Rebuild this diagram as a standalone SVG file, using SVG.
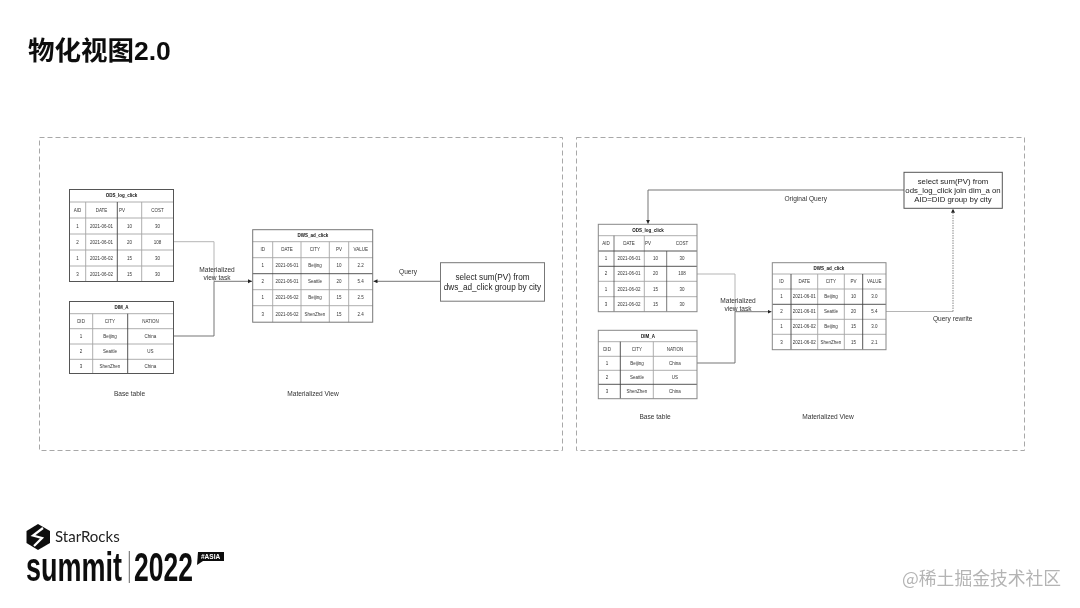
<svg xmlns="http://www.w3.org/2000/svg" width="1080" height="608" viewBox="0 0 1080 608">
<style>
text{font-family:"Liberation Sans",Arial,"Noto Sans CJK SC",sans-serif;fill:#222}
.panel{fill:none;stroke:#a8a8a8;stroke-width:1;stroke-dasharray:5 3}
.cell{fill:#fff}
.outer{fill:none;stroke:#555;stroke-width:1}
.dark{fill:none;stroke:#444;stroke-width:.9}
.grey{fill:none;stroke:#a5a5a5;stroke-width:.9}
.t text{font-size:4.5px;text-anchor:middle;fill:#333}
.t .h{font-weight:bold;fill:#111}
.lab{font-size:6.6px;text-anchor:middle;fill:#333}
.q{font-size:8.2px;text-anchor:middle;fill:#222}
.qs{font-size:7.800px}
.box{fill:#fff;stroke:#777;stroke-width:1}
.c{fill:none;stroke:#666;stroke-width:.9}
.cl{fill:none;stroke:#b5b5b5;stroke-width:1}
.cd{fill:none;stroke:#888;stroke-width:1;stroke-dasharray:1.5 1}
</style>
<defs>
<marker id="a" markerWidth="5" markerHeight="5" refX="4" refY="2" orient="auto" markerUnits="userSpaceOnUse"><path d="M0 0L4 2L0 4Z" fill="#222"/></marker>
<filter id="soft" x="0" y="0" width="100%" height="100%" filterUnits="userSpaceOnUse" primitiveUnits="userSpaceOnUse"><feGaussianBlur stdDeviation="0.35"/></filter>
</defs>
<rect width="1080" height="608" fill="#fff"/>
<g filter="url(#soft)">
<text x="28" y="60" font-size="26.5" font-weight="bold" style="fill:#111">物化视图2.0</text>
<rect class="panel" x="39.500" y="137.500" width="523" height="313"/>
<rect class="panel" x="576.500" y="137.500" width="448" height="313"/>

<g id="connectors">
<path class="cl" d="M174 241.700H214V281"/>
<path class="c" d="M174 336H214V281.300"/>
<path class="c" d="M214 281.300H252" marker-end="url(#a)"/>
<path class="c" d="M440 281.300H373.500" marker-end="url(#a)"/>
<path class="cl" d="M697 274H735V312"/>
<path class="c" d="M697 363H735V311.700"/>
<path class="c" d="M735 311.700H771.500" marker-end="url(#a)"/>
<path class="c" d="M904 190H648V223.800" marker-end="url(#a)"/>
<path class="cl" d="M886 311.500H953"/>
<path class="cd" d="M953 311.500V208.800" marker-end="url(#a)"/>
</g>

<g id="ods-left" class="t">
<rect class="cell" x="69.500" y="189.500" width="104" height="92"/>
<path class="grey" d="M69.500 202H173.500M69.500 218H173.500M69.500 234H173.500M69.500 250H173.500M69.500 266H173.500M85.700 202V281.500M141.700 202V281.500"/>
<path class="dark" d="M117.300 202V281.500"/>
<rect class="outer" x="69.500" y="189.500" width="104" height="92"/>
<text class="h" x="121.500" y="197.300">ODS_log_click</text>
<text x="77.500" y="211.600">AID</text><text x="101.500" y="211.600">DATE</text><text x="122" y="211.600">PV</text><text x="157.500" y="211.600">COST</text>
<text x="77.500" y="227.600">1</text><text x="101.500" y="227.600">2021-06-01</text><text x="129.500" y="227.600">10</text><text x="157.500" y="227.600">30</text>
<text x="77.500" y="243.600">2</text><text x="101.500" y="243.600">2021-06-01</text><text x="129.500" y="243.600">20</text><text x="157.500" y="243.600">108</text>
<text x="77.500" y="259.600">1</text><text x="101.500" y="259.600">2021-06-02</text><text x="129.500" y="259.600">15</text><text x="157.500" y="259.600">30</text>
<text x="77.500" y="275.600">3</text><text x="101.500" y="275.600">2021-06-02</text><text x="129.500" y="275.600">15</text><text x="157.500" y="275.600">30</text>
</g>

<g id="dim-left" class="t">
<rect class="cell" x="69.500" y="301.500" width="104" height="72"/>
<path class="grey" d="M69.500 313.700H173.500M69.500 328.700H173.500M69.500 344H173.500M69.500 359.300H173.500M92.700 313.700V373.500"/>
<path class="dark" d="M127.700 313.700V373.500"/>
<rect class="outer" x="69.500" y="301.500" width="104" height="72"/>
<text class="h" x="121.500" y="309.200">DIM_A</text>
<text x="81" y="322.600">DID</text><text x="110" y="322.600">CITY</text><text x="150.500" y="322.600">NATION</text>
<text x="81" y="337.900">1</text><text x="110" y="337.900">Beijing</text><text x="150.500" y="337.900">China</text>
<text x="81" y="353.100">2</text><text x="110" y="353.100">Seattle</text><text x="150.500" y="353.100">US</text>
<text x="81" y="367.900">3</text><text x="110" y="367.900">ShenZhen</text><text x="150.500" y="367.900">China</text>
</g>

<g id="dws-left" class="t">
<rect class="cell" x="252.700" y="229.700" width="120" height="92.500"/>
<path class="grey" d="M252.700 241.700H372.700M252.700 257.700H372.700M252.700 289.700H372.700M252.700 305.700H372.700M272.700 241.700V322.200M301 241.700V322.200M329.300 241.700V322.200M348.700 241.700V322.200"/>
<path class="dark" d="M252.700 273.700H372.700"/>
<rect class="outer" style="stroke:#777" x="252.700" y="229.700" width="120" height="92.500"/>
<text class="h" x="313" y="237.300">DWS_ad_click</text>
<text x="262.700" y="251.300">ID</text><text x="287" y="251.300">DATE</text><text x="315" y="251.300">CITY</text><text x="339" y="251.300">PV</text><text x="360.700" y="251.300">VALUE</text>
<text x="262.700" y="267.300">1</text><text x="287" y="267.300">2021-06-01</text><text x="315" y="267.300">Beijing</text><text x="339" y="267.300">10</text><text x="360.700" y="267.300">2.2</text>
<text x="262.700" y="283.300">2</text><text x="287" y="283.300">2021-06-01</text><text x="315" y="283.300">Seattle</text><text x="339" y="283.300">20</text><text x="360.700" y="283.300">5.4</text>
<text x="262.700" y="299.300">1</text><text x="287" y="299.300">2021-06-02</text><text x="315" y="299.300">Beijing</text><text x="339" y="299.300">15</text><text x="360.700" y="299.300">2.5</text>
<text x="262.700" y="315.500">3</text><text x="287" y="315.500">2021-06-02</text><text x="315" y="315.500">ShenZhen</text><text x="339" y="315.500">15</text><text x="360.700" y="315.500">2.4</text>
</g>

<g id="query-left">
<rect class="box" x="440.500" y="262.700" width="104" height="38.500"/>
<text class="q" x="492.500" y="280">select sum(PV) from</text>
<text class="q" x="492.500" y="290">dws_ad_click group by city</text>
</g>

<g id="ods-right" class="t">
<rect class="cell" x="598.300" y="224.300" width="98.700" height="87.400"/>
<path class="grey" d="M598.300 235.700H697M598.300 281.300H697M598.300 296.700H697M644.300 235.700V311.700"/>
<path class="dark" d="M598.300 251H697M598.300 266.300H697"/>
<path class="dark" stroke-opacity=".8" d="M614 235.700V311.700M666.700 251V311.700"/>
<rect class="outer" style="stroke:#888" x="598.300" y="224.300" width="98.700" height="87.400"/>
<text class="h" x="648" y="231.600">ODS_log_click</text>
<text x="606" y="245">AID</text><text x="629" y="245">DATE</text><text x="648" y="245">PV</text><text x="682" y="245">COST</text>
<text x="606" y="260.300">1</text><text x="629" y="260.300">2021-06-01</text><text x="655.500" y="260.300">10</text><text x="682" y="260.300">30</text>
<text x="606" y="275.400">2</text><text x="629" y="275.400">2021-06-01</text><text x="655.500" y="275.400">20</text><text x="682" y="275.400">108</text>
<text x="606" y="290.600">1</text><text x="629" y="290.600">2021-06-02</text><text x="655.500" y="290.600">15</text><text x="682" y="290.600">30</text>
<text x="606" y="305.800">3</text><text x="629" y="305.800">2021-06-02</text><text x="655.500" y="305.800">15</text><text x="682" y="305.800">30</text>
</g>

<g id="dim-right" class="t">
<rect class="cell" x="598.300" y="330.300" width="98.700" height="68.400"/>
<path class="grey" d="M598.300 341.700H697M598.300 356.300H697M598.300 370.300H697M653.300 341.700V398.700"/>
<path class="dark" d="M598.300 384.300H697M620.300 341.700V398.700"/>
<rect class="outer" style="stroke:#888" x="598.300" y="330.300" width="98.700" height="68.400"/>
<text class="h" x="648" y="337.600">DIM_A</text>
<text x="607" y="350.600">DID</text><text x="637" y="350.600">CITY</text><text x="675" y="350.600">NATION</text>
<text x="607" y="364.900">1</text><text x="637" y="364.900">Beijing</text><text x="675" y="364.900">China</text>
<text x="607" y="378.900">2</text><text x="637" y="378.900">Seattle</text><text x="675" y="378.900">US</text>
<text x="607" y="393.100">3</text><text x="637" y="393.100">ShenZhen</text><text x="675" y="393.100">China</text>
</g>

<g id="dws-right" class="t">
<rect class="cell" x="772.300" y="262.700" width="113.700" height="87"/>
<path class="grey" d="M772.300 274H886M772.300 289H886M772.300 319.300H886M772.300 334.300H886M817.700 274V349.700M844.300 274V349.700"/>
<path class="dark" d="M772.300 304.300H886M791 274V349.700M862.700 274V349.700"/>
<rect class="outer" style="stroke:#888" x="772.300" y="262.700" width="113.700" height="87"/>
<text class="h" x="829" y="269.900">DWS_ad_click</text>
<text x="781.500" y="283.100">ID</text><text x="804.300" y="283.100">DATE</text><text x="831" y="283.100">CITY</text><text x="853.500" y="283.100">PV</text><text x="874.300" y="283.100">VALUE</text>
<text x="781.500" y="298.300">1</text><text x="804.300" y="298.300">2021-06-01</text><text x="831" y="298.300">Beijing</text><text x="853.500" y="298.300">10</text><text x="874.300" y="298.300">3.0</text>
<text x="781.500" y="313.400">2</text><text x="804.300" y="313.400">2021-06-01</text><text x="831" y="313.400">Seattle</text><text x="853.500" y="313.400">20</text><text x="874.300" y="313.400">5.4</text>
<text x="781.500" y="328.400">1</text><text x="804.300" y="328.400">2021-06-02</text><text x="831" y="328.400">Beijing</text><text x="853.500" y="328.400">15</text><text x="874.300" y="328.400">3.0</text>
<text x="781.500" y="343.600">3</text><text x="804.300" y="343.600">2021-06-02</text><text x="831" y="343.600">ShenZhen</text><text x="853.500" y="343.600">15</text><text x="874.300" y="343.600">2.1</text>
</g>

<g id="query-right">
<rect class="box" style="stroke:#555" x="904" y="172.300" width="98.300" height="36"/>
<text class="q qs" x="953" y="184">select sum(PV) from</text>
<text class="q qs" x="953" y="193">ods_log_click join dim_a on</text>
<text class="q qs" x="953" y="202.300">AID=DID group by city</text>
</g>

<g id="labels">
<text class="lab" x="217" y="272">Materialized</text>
<text class="lab" x="217" y="280">view task</text>
<text class="lab" x="408" y="274">Query</text>
<text class="lab" x="129.500" y="395.500">Base table</text>
<text class="lab" x="313" y="395.500">Materialized View</text>
<text class="lab" x="738" y="302.500">Materialized</text>
<text class="lab" x="738" y="310.500">view task</text>
<text class="lab" x="805.700" y="200.500">Original Query</text>
<text class="lab" x="952.700" y="321">Query rewrite</text>
<text class="lab" x="655" y="419">Base table</text>
<text class="lab" x="828" y="419">Materialized View</text>
</g>

<g id="logo">
<path d="M38 524L50 531V543L38 550L26.500 543V531Z" fill="#111"/>
<path d="M43 528L33 535.500L42 538L34 546" fill="none" stroke="#fff" stroke-width="2.200"/>
<text x="55" y="542" font-size="15" style="font-family:'Lato','Liberation Sans',sans-serif;fill:#222">StarRocks</text>
<text transform="translate(26 580.500) scale(.675 1)" font-size="40" font-weight="bold" style="fill:#111">summit</text>
<rect x="128.800" y="551" width="1" height="32" fill="#666"/>
<text transform="translate(134 580.500) scale(.663 1)" font-size="40" font-weight="bold" style="fill:#111">2022</text>
<path d="M198 552H224V561H203L197 565Z" fill="#111"/>
<text x="201" y="558.800" font-size="6.500" font-weight="bold" style="fill:#fff">#ASIA</text>
</g>

<text x="902" y="585" font-size="17.800" style="fill:#b4b4b4;font-family:'Noto Sans CJK SC',sans-serif">@稀土掘金技术社区</text>
</g>
</svg>
